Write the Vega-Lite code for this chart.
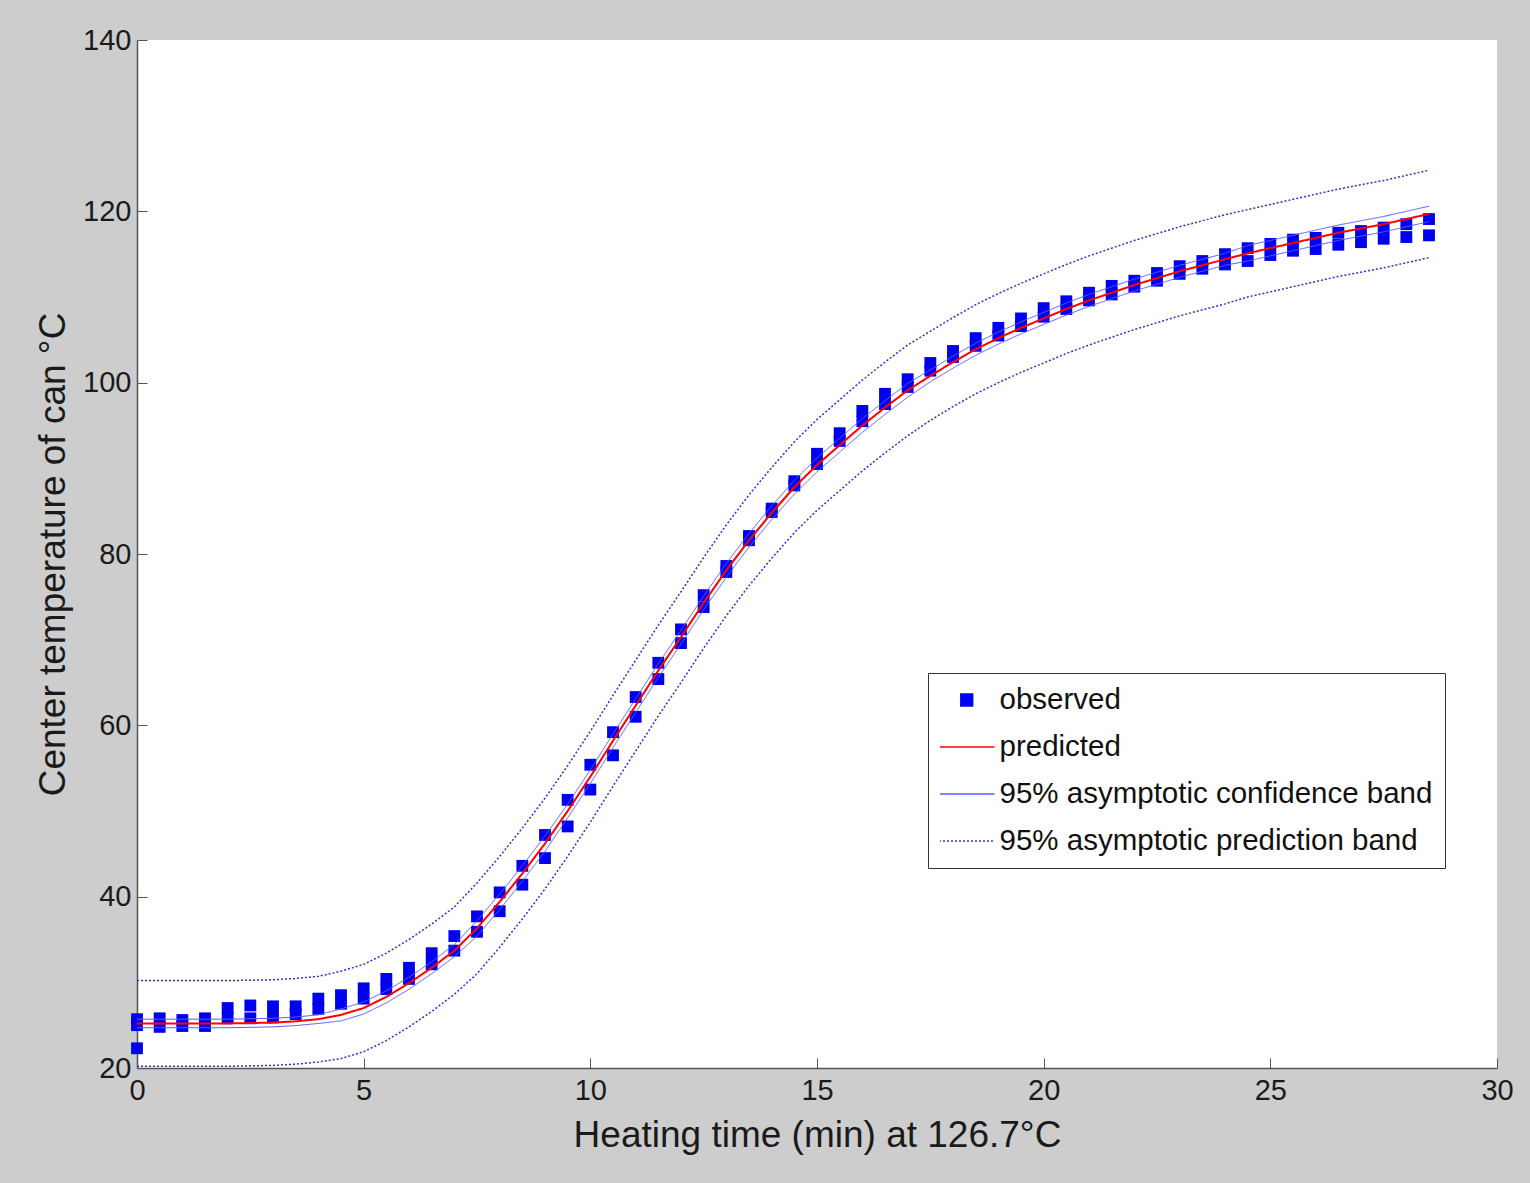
{
  "$schema": "https://vega.github.io/schema/vega-lite/v6.json",
  "autosize": {"type": "none"},
  "width": 1360,
  "height": 1028,
  "padding": {"left": 137, "top": 40, "right": 33, "bottom": 115},
  "background": "#cdcdcd",
  "config": {
    "font": "Liberation Sans",
    "view": {"fill": "white", "stroke": null}
  },
  "datasets": {
    "obs": [
      {"t": 0, "temp": 25.7}, {"t": 0, "temp": 25.0}, {"t": 0, "temp": 22.3},
      {"t": 0.5, "temp": 25.8}, {"t": 0.5, "temp": 24.8},
      {"t": 1, "temp": 25.6}, {"t": 1, "temp": 24.9},
      {"t": 1.5, "temp": 25.8}, {"t": 1.5, "temp": 24.9},
      {"t": 2, "temp": 27.0}, {"t": 2, "temp": 25.8},
      {"t": 2.5, "temp": 27.3}, {"t": 2.5, "temp": 25.8},
      {"t": 3, "temp": 27.2}, {"t": 3, "temp": 25.9},
      {"t": 3.5, "temp": 27.2}, {"t": 3.5, "temp": 26.3},
      {"t": 4, "temp": 28.1}, {"t": 4, "temp": 26.9},
      {"t": 4.5, "temp": 28.5}, {"t": 4.5, "temp": 27.5},
      {"t": 5, "temp": 29.3}, {"t": 5, "temp": 28.1},
      {"t": 5.5, "temp": 30.4}, {"t": 5.5, "temp": 29.2},
      {"t": 6, "temp": 31.7}, {"t": 6, "temp": 30.4},
      {"t": 6.5, "temp": 33.4}, {"t": 6.5, "temp": 32.1},
      {"t": 7, "temp": 35.4}, {"t": 7, "temp": 33.7},
      {"t": 7.5, "temp": 37.7}, {"t": 7.5, "temp": 35.9},
      {"t": 8, "temp": 40.5}, {"t": 8, "temp": 38.3},
      {"t": 8.5, "temp": 43.6}, {"t": 8.5, "temp": 41.4},
      {"t": 9, "temp": 47.2}, {"t": 9, "temp": 44.5},
      {"t": 9.5, "temp": 51.3}, {"t": 9.5, "temp": 48.2},
      {"t": 10, "temp": 55.4}, {"t": 10, "temp": 52.5},
      {"t": 10.5, "temp": 59.2}, {"t": 10.5, "temp": 56.5},
      {"t": 11, "temp": 63.3}, {"t": 11, "temp": 61.0},
      {"t": 11.5, "temp": 67.3}, {"t": 11.5, "temp": 65.4},
      {"t": 12, "temp": 71.2}, {"t": 12, "temp": 69.6},
      {"t": 12.5, "temp": 75.2}, {"t": 12.5, "temp": 73.8},
      {"t": 13, "temp": 78.6}, {"t": 13, "temp": 77.9},
      {"t": 13.5, "temp": 82.1}, {"t": 13.5, "temp": 81.6},
      {"t": 14, "temp": 85.3}, {"t": 14, "temp": 84.9},
      {"t": 14.5, "temp": 88.5}, {"t": 14.5, "temp": 88.0},
      {"t": 15, "temp": 91.7}, {"t": 15, "temp": 90.5},
      {"t": 15.5, "temp": 94.1}, {"t": 15.5, "temp": 93.2},
      {"t": 16, "temp": 96.7}, {"t": 16, "temp": 95.5},
      {"t": 16.5, "temp": 98.7}, {"t": 16.5, "temp": 97.5},
      {"t": 17, "temp": 100.4}, {"t": 17, "temp": 99.5},
      {"t": 17.5, "temp": 102.3}, {"t": 17.5, "temp": 101.4},
      {"t": 18, "temp": 103.7}, {"t": 18, "temp": 103.0},
      {"t": 18.5, "temp": 105.2}, {"t": 18.5, "temp": 104.3},
      {"t": 19, "temp": 106.4}, {"t": 19, "temp": 105.5},
      {"t": 19.5, "temp": 107.5}, {"t": 19.5, "temp": 106.6},
      {"t": 20, "temp": 108.7}, {"t": 20, "temp": 107.7},
      {"t": 20.5, "temp": 109.5}, {"t": 20.5, "temp": 108.6},
      {"t": 21, "temp": 110.5}, {"t": 21, "temp": 109.6},
      {"t": 21.5, "temp": 111.3}, {"t": 21.5, "temp": 110.3},
      {"t": 22, "temp": 111.9}, {"t": 22, "temp": 111.2},
      {"t": 22.5, "temp": 112.8}, {"t": 22.5, "temp": 111.9},
      {"t": 23, "temp": 113.6}, {"t": 23, "temp": 112.7},
      {"t": 23.5, "temp": 114.2}, {"t": 23.5, "temp": 113.3},
      {"t": 24, "temp": 115.0}, {"t": 24, "temp": 113.8},
      {"t": 24.5, "temp": 115.7}, {"t": 24.5, "temp": 114.2},
      {"t": 25, "temp": 116.2}, {"t": 25, "temp": 114.9},
      {"t": 25.5, "temp": 116.7}, {"t": 25.5, "temp": 115.4},
      {"t": 26, "temp": 116.9}, {"t": 26, "temp": 115.6},
      {"t": 26.5, "temp": 117.5}, {"t": 26.5, "temp": 116.1},
      {"t": 27, "temp": 117.7}, {"t": 27, "temp": 116.4},
      {"t": 27.5, "temp": 118.1}, {"t": 27.5, "temp": 116.8},
      {"t": 28, "temp": 118.5}, {"t": 28, "temp": 117.0},
      {"t": 28.5, "temp": 119.1}, {"t": 28.5, "temp": 117.2}
    ],
    "fit": [
      {"t": 0, "pred": 25.2, "cu": 25.7, "cl": 24.7, "pu": 30.2, "pl": 20.2},
      {"t": 0.5, "pred": 25.2, "cu": 25.7, "cl": 24.7, "pu": 30.2, "pl": 20.2},
      {"t": 1, "pred": 25.2, "cu": 25.7, "cl": 24.7, "pu": 30.2, "pl": 20.2},
      {"t": 1.5, "pred": 25.2, "cu": 25.7, "cl": 24.7, "pu": 30.2, "pl": 20.2},
      {"t": 2, "pred": 25.2, "cu": 25.7, "cl": 24.7, "pu": 30.2, "pl": 20.2},
      {"t": 2.5, "pred": 25.25, "cu": 25.75, "cl": 24.75, "pu": 30.25, "pl": 20.25},
      {"t": 3, "pred": 25.3, "cu": 25.8, "cl": 24.8, "pu": 30.3, "pl": 20.3},
      {"t": 3.5, "pred": 25.45, "cu": 25.95, "cl": 24.95, "pu": 30.45, "pl": 20.45},
      {"t": 4, "pred": 25.7, "cu": 26.2, "cl": 25.2, "pu": 30.7, "pl": 20.7},
      {"t": 4.5, "pred": 26.2, "cu": 26.9, "cl": 25.5, "pu": 31.3, "pl": 21.1},
      {"t": 5, "pred": 27.0, "cu": 27.7, "cl": 26.3, "pu": 32.1, "pl": 21.9},
      {"t": 5.5, "pred": 28.3, "cu": 29.0, "cl": 27.6, "pu": 33.4, "pl": 23.2},
      {"t": 6, "pred": 29.9, "cu": 30.6, "cl": 29.2, "pu": 35.0, "pl": 24.8},
      {"t": 6.5, "pred": 31.7, "cu": 32.4, "cl": 31.0, "pu": 36.8, "pl": 26.6},
      {"t": 7, "pred": 33.7, "cu": 34.4, "cl": 33.0, "pu": 38.8, "pl": 28.6},
      {"t": 7.5, "pred": 36.3, "cu": 37.2, "cl": 35.4, "pu": 41.6, "pl": 31.0},
      {"t": 8, "pred": 39.4, "cu": 40.3, "cl": 38.5, "pu": 44.7, "pl": 34.1},
      {"t": 8.5, "pred": 42.7, "cu": 43.6, "cl": 41.8, "pu": 48.0, "pl": 37.4},
      {"t": 9, "pred": 46.2, "cu": 47.1, "cl": 45.3, "pu": 51.5, "pl": 40.9},
      {"t": 9.5, "pred": 50.0, "cu": 50.8, "cl": 49.2, "pu": 55.3, "pl": 44.7},
      {"t": 10, "pred": 54.0, "cu": 54.8, "cl": 53.2, "pu": 59.3, "pl": 48.7},
      {"t": 10.5, "pred": 58.2, "cu": 59.0, "cl": 57.4, "pu": 63.5, "pl": 52.9},
      {"t": 11, "pred": 62.3, "cu": 63.1, "cl": 61.5, "pu": 67.6, "pl": 57.0},
      {"t": 11.5, "pred": 66.4, "cu": 67.2, "cl": 65.6, "pu": 71.7, "pl": 61.1},
      {"t": 12, "pred": 70.3, "cu": 71.1, "cl": 69.5, "pu": 75.6, "pl": 65.0},
      {"t": 12.5, "pred": 74.3, "cu": 75.1, "cl": 73.5, "pu": 79.6, "pl": 69.0},
      {"t": 13, "pred": 78.1, "cu": 78.9, "cl": 77.3, "pu": 83.4, "pl": 72.8},
      {"t": 13.5, "pred": 81.6, "cu": 82.4, "cl": 80.8, "pu": 86.9, "pl": 76.3},
      {"t": 14, "pred": 84.8, "cu": 85.6, "cl": 84.0, "pu": 90.1, "pl": 79.5},
      {"t": 14.5, "pred": 87.8, "cu": 88.6, "cl": 87.0, "pu": 93.1, "pl": 82.5},
      {"t": 15, "pred": 90.4, "cu": 91.2, "cl": 89.6, "pu": 95.7, "pl": 85.1},
      {"t": 15.5, "pred": 92.7, "cu": 93.5, "cl": 91.9, "pu": 98.0, "pl": 87.4},
      {"t": 16, "pred": 95.0, "cu": 95.8, "cl": 94.2, "pu": 100.3, "pl": 89.7},
      {"t": 16.5, "pred": 97.1, "cu": 97.9, "cl": 96.3, "pu": 102.4, "pl": 91.8},
      {"t": 17, "pred": 99.1, "cu": 99.9, "cl": 98.3, "pu": 104.4, "pl": 93.8},
      {"t": 17.5, "pred": 100.8, "cu": 101.5, "cl": 100.1, "pu": 106.0, "pl": 95.6},
      {"t": 18, "pred": 102.4, "cu": 103.1, "cl": 101.7, "pu": 107.6, "pl": 97.2},
      {"t": 18.5, "pred": 103.9, "cu": 104.6, "cl": 103.2, "pu": 109.1, "pl": 98.7},
      {"t": 19, "pred": 105.2, "cu": 105.9, "cl": 104.5, "pu": 110.4, "pl": 100.0},
      {"t": 19.5, "pred": 106.4, "cu": 107.1, "cl": 105.7, "pu": 111.6, "pl": 101.2},
      {"t": 20, "pred": 107.5, "cu": 108.2, "cl": 106.8, "pu": 112.7, "pl": 102.3},
      {"t": 20.5, "pred": 108.6, "cu": 109.3, "cl": 107.9, "pu": 113.8, "pl": 103.4},
      {"t": 21, "pred": 109.6, "cu": 110.3, "cl": 108.9, "pu": 114.8, "pl": 104.4},
      {"t": 21.5, "pred": 110.5, "cu": 111.2, "cl": 109.8, "pu": 115.7, "pl": 105.3},
      {"t": 22, "pred": 111.4, "cu": 112.1, "cl": 110.7, "pu": 116.6, "pl": 106.2},
      {"t": 22.5, "pred": 112.2, "cu": 112.9, "cl": 111.5, "pu": 117.4, "pl": 107.0},
      {"t": 23, "pred": 113.0, "cu": 113.7, "cl": 112.3, "pu": 118.2, "pl": 107.8},
      {"t": 23.5, "pred": 113.7, "cu": 114.4, "cl": 113.0, "pu": 118.9, "pl": 108.5},
      {"t": 24, "pred": 114.4, "cu": 115.1, "cl": 113.7, "pu": 119.6, "pl": 109.2},
      {"t": 24.5, "pred": 115.1, "cu": 116.0, "cl": 114.2, "pu": 120.2, "pl": 110.0},
      {"t": 25, "pred": 115.7, "cu": 116.6, "cl": 114.8, "pu": 120.8, "pl": 110.6},
      {"t": 25.5, "pred": 116.3, "cu": 117.2, "cl": 115.4, "pu": 121.4, "pl": 111.2},
      {"t": 26, "pred": 116.9, "cu": 117.8, "cl": 116.0, "pu": 122.0, "pl": 111.8},
      {"t": 26.5, "pred": 117.5, "cu": 118.4, "cl": 116.6, "pu": 122.6, "pl": 112.4},
      {"t": 27, "pred": 118.0, "cu": 118.9, "cl": 117.1, "pu": 123.1, "pl": 112.9},
      {"t": 27.5, "pred": 118.5, "cu": 119.4, "cl": 117.6, "pu": 123.6, "pl": 113.4},
      {"t": 28, "pred": 119.1, "cu": 120.0, "cl": 118.2, "pu": 124.2, "pl": 114.0},
      {"t": 28.5, "pred": 119.7, "cu": 120.6, "cl": 118.8, "pu": 124.8, "pl": 114.6}
    ]
  },
  "encoding": {
    "x": {
      "field": "t", "type": "quantitative",
      "scale": {"domain": [0, 30], "nice": false, "zero": false},
      "axis": {
        "values": [0, 5, 10, 15, 20, 25, 30],
        "title": "Heating time (min) at 126.7°C",
        "titleFontSize": 37, "titleFontWeight": "normal", "titleColor": "#1a1a1a", "titlePadding": 12,
        "labelFontSize": 29, "labelColor": "#1a1a1a", "labelPadding": 18, "labelFlush": false, "labelOverlap": false,
        "tickSize": -10, "tickColor": "#555555", "domainColor": "#555555", "domainWidth": 1.5, "grid": false
      }
    }
  },
  "layer": [
    {
      "data": {"name": "obs"},
      "mark": {"type": "point", "filled": true, "size": 140, "opacity": 1},
      "encoding": {
        "y": {
          "field": "temp", "type": "quantitative",
          "title": "Center temperature of can °C",
          "scale": {"domain": [20, 140], "nice": false, "zero": false},
          "axis": {
            "values": [20, 40, 60, 80, 100, 120, 140],
            "titleFontSize": 37, "titleFontWeight": "normal", "titleColor": "#1a1a1a", "titlePadding": 10,
            "labelFontSize": 29, "labelColor": "#1a1a1a", "labelPadding": 16, "labelOverlap": false, "labelFlush": false,
            "tickSize": -10, "tickColor": "#555555", "domainColor": "#555555", "domainWidth": 1.5, "grid": false
          }
        },
        "color": {
          "datum": "observed", "type": "nominal",
          "scale": {
            "domain": ["observed", "predicted", "95% asymptotic confidence band", "95% asymptotic prediction band"],
            "range": ["#0000f0", "#ff0000", "#5a5aff", "#3333cc"]
          },
          "legend": {
            "title": null, "orient": "none", "legendX": 791, "legendY": 633,
            "fillColor": "white", "strokeColor": "#333333", "padding": 12,
            "labelFontSize": 29.5, "labelColor": "#111111", "labelOffset": 18, "labelLimit": 0,
            "symbolSize": 140, "symbolOffset": 12, "clipHeight": 30, "rowPadding": 17, "symbolStrokeWidth": 1.5
          }
        },
        "shape": {
          "datum": "observed", "type": "nominal",
          "scale": {
            "domain": ["observed", "predicted", "95% asymptotic confidence band", "95% asymptotic prediction band"],
            "range": ["square", "M-4.7,0L4.7,0", "M-4.7,0L4.7,0", "M-4.7,0L4.7,0"]
          },
          "legend": {"title": null}
        }
      }
    },
    {
      "data": {"name": "fit"},
      "mark": {"type": "line", "strokeWidth": 1},
      "encoding": {
        "y": {"field": "cu", "type": "quantitative", "title": "Center temperature of can °C"},
        "color": {"datum": "95% asymptotic confidence band", "type": "nominal"},
        "strokeDash": {
          "datum": "95% asymptotic confidence band", "type": "nominal",
          "scale": {
            "domain": ["observed", "predicted", "95% asymptotic confidence band", "95% asymptotic prediction band"],
            "range": [[1, 0], [1, 0], [1, 0], [2, 2]]
          },
          "legend": {"title": null}
        }
      }
    },
    {
      "data": {"name": "fit"},
      "mark": {"type": "line", "strokeWidth": 1},
      "encoding": {
        "y": {"field": "cl", "type": "quantitative", "title": "Center temperature of can °C"},
        "color": {"datum": "95% asymptotic confidence band", "type": "nominal"},
        "strokeDash": {"datum": "95% asymptotic confidence band", "type": "nominal"}
      }
    },
    {
      "data": {"name": "fit"},
      "mark": {"type": "line", "strokeWidth": 1.5},
      "encoding": {
        "y": {"field": "pu", "type": "quantitative", "title": "Center temperature of can °C"},
        "color": {"datum": "95% asymptotic prediction band", "type": "nominal"},
        "strokeDash": {"datum": "95% asymptotic prediction band", "type": "nominal"}
      }
    },
    {
      "data": {"name": "fit"},
      "mark": {"type": "line", "strokeWidth": 1.5},
      "encoding": {
        "y": {"field": "pl", "type": "quantitative", "title": "Center temperature of can °C"},
        "color": {"datum": "95% asymptotic prediction band", "type": "nominal"},
        "strokeDash": {"datum": "95% asymptotic prediction band", "type": "nominal"}
      }
    },
    {
      "data": {"name": "fit"},
      "mark": {"type": "line", "strokeWidth": 2},
      "encoding": {
        "y": {"field": "pred", "type": "quantitative", "title": "Center temperature of can °C"},
        "color": {"datum": "predicted", "type": "nominal"},
        "strokeDash": {"datum": "predicted", "type": "nominal"}
      }
    }
  ]
}
